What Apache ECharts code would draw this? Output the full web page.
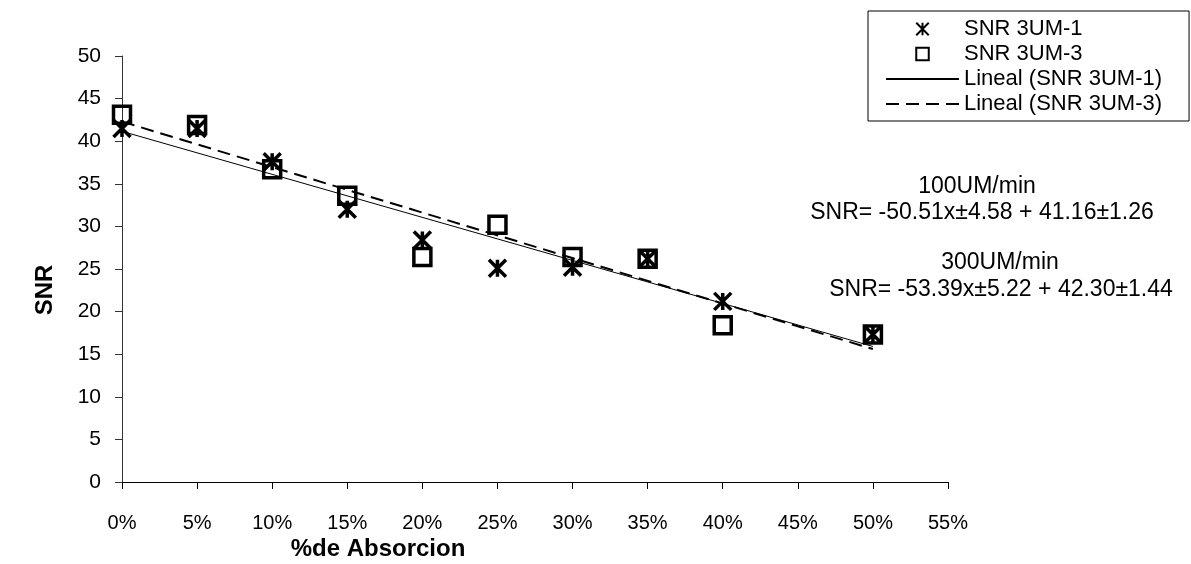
<!DOCTYPE html>
<html>
<head>
<meta charset="utf-8">
<script src="https://cdn.jsdelivr.net/npm/echarts@6/dist/echarts.min.js"></script>
<style>
  html, body { margin: 0; padding: 0; background: #fff; }
  #chart { width: 1191px; height: 564px; }
</style>
</head>
<body>
<div id="chart"></div>
<script>
// ---- data (x in % absorption) ----
const absorcion = [0, 5, 10, 15, 20, 25, 30, 35, 40, 50];
const snr3um1 = [41.5, 41.5, 37.6, 32.0, 28.4, 25.1, 25.2, 26.2, 21.2, 17.3];
const snr3um3 = [43.1, 41.9, 36.7, 33.6, 26.4, 30.2, 26.4, 26.2, 18.4, 17.3];
// fitted lines as given in the annotations (endpoints at 0% and 50%)
const linealX = [0, 50];
const lineal1Y = [41.16, 15.905];
const lineal3Y = [42.30, 15.605];
const yTicks = { min: 0, max: 50, interval: 5 };
const xTicks = { min: 0, max: 55, interval: 5 };
const eq1 = ['100UM/min', 'SNR= -50.51x\u00b14.58 + 41.16\u00b11.26'];
const eq3 = ['300UM/min', 'SNR= -53.39x\u00b15.22 + 42.30\u00b11.44'];
const names = ['SNR 3UM-1', 'SNR 3UM-3', 'Lineal (SNR 3UM-1)', 'Lineal (SNR 3UM-3)'];
const xTitle = '%de Absorcion';
const yTitle = 'SNR';

const FONT = 'Liberation Sans, Arial, sans-serif';
const zip = (xs, ys) => xs.map((x, i) => [x, ys[i]]);
const asterisk = 'path://M0,0L10,10M10,0L0,10M5,0L5,10';
const legendAsterisk = 'path://M-3,-3M13,13M0,0L10,10M10,0L0,10M5,0L5,10';
const legendSquare = 'path://M-3,-3M13,13M0,0L10,0L10,10L0,10Z';
const hidden = { color: 'rgba(0,0,0,0)', borderColor: 'rgba(0,0,0,0)', borderWidth: 0 };

const chart = echarts.init(document.getElementById('chart'), null, { renderer: 'canvas' });
chart.setOption({
  animation: false,
  backgroundColor: '#fff',
  textStyle: { fontFamily: FONT, color: '#000' },
  grid: { left: 122, top: 56, right: 243, bottom: 82, containLabel: false },
  xAxis: {
    type: 'value', min: xTicks.min, max: xTicks.max, interval: xTicks.interval,
    axisLine: { show: true, lineStyle: { color: '#000', width: 1 } },
    axisTick: { show: true, inside: false, length: 7, lineStyle: { color: '#000' } },
    splitLine: { show: false },
    axisLabel: { formatter: v => v + '%', fontSize: 20, fontFamily: FONT, color: '#000', margin: 31 }
  },
  yAxis: {
    type: 'value', min: yTicks.min, max: yTicks.max, interval: yTicks.interval,
    axisLine: { show: true, lineStyle: { color: '#333', width: 1 } },
    axisTick: { show: true, inside: false, length: 7, lineStyle: { color: '#333' } },
    splitLine: { show: false },
    axisLabel: { fontSize: 21, fontFamily: FONT, color: '#000', margin: 21 }
  },
  legend: {
    orient: 'vertical', left: 868, top: 11,
    padding: [7, 27, 6, 17], itemGap: 3, itemWidth: 73, itemHeight: 20,
    symbolKeepAspect: true,
    borderColor: '#000', borderWidth: 1, backgroundColor: '#fff',
    textStyle: { fontSize: 22, fontFamily: FONT, color: '#000' },
    data: [
      { name: names[0], icon: legendAsterisk },
      { name: names[1], icon: legendSquare },
      { name: names[2], itemStyle: hidden },
      { name: names[3], itemStyle: hidden }
    ],
    selectedMode: false
  },
  series: [
    {
      name: names[2], type: 'line', data: zip(linealX, lineal1Y), symbol: 'none', z: 2,
      itemStyle: { color: '#000' },
      lineStyle: { color: '#000', width: 1, type: 'solid' }, silent: true
    },
    {
      name: names[3], type: 'line', data: zip(linealX, lineal3Y), symbol: 'none', z: 2,
      itemStyle: { color: '#000' },
      lineStyle: { color: '#000', width: 2, type: [13, 7] }, silent: true
    },
    {
      name: names[1], type: 'scatter', data: zip(absorcion, snr3um3), symbol: 'rect', symbolSize: 17, z: 3,
      itemStyle: { color: 'rgba(255,255,255,0)', borderColor: '#000', borderWidth: 3.5, opacity: 1 }
    },
    {
      name: names[0], type: 'scatter', data: zip(absorcion, snr3um1), symbol: asterisk, symbolSize: 17, z: 4,
      itemStyle: { color: 'rgba(255,255,255,0)', borderColor: '#000', borderWidth: 3.5, opacity: 1 }
    }
  ],
  graphic: [
    { type: 'text', x: 378, y: 549, style: { text: xTitle, font: 'bold 24px ' + FONT, fill: '#000', align: 'center', verticalAlign: 'middle' } },
    { type: 'text', x: 45, y: 290, rotation: Math.PI / 2, style: { text: yTitle, font: 'bold 24px ' + FONT, fill: '#000', align: 'center', verticalAlign: 'middle' } },
    { type: 'text', x: 977, y: 187, style: { text: eq1[0], font: '23px ' + FONT, fill: '#000', align: 'center', verticalAlign: 'middle' } },
    { type: 'text', x: 982, y: 213, style: { text: eq1[1], font: '23px ' + FONT, fill: '#000', align: 'center', verticalAlign: 'middle' } },
    { type: 'text', x: 1000, y: 263, style: { text: eq3[0], font: '23px ' + FONT, fill: '#000', align: 'center', verticalAlign: 'middle' } },
    { type: 'text', x: 1001, y: 290, style: { text: eq3[1], font: '23px ' + FONT, fill: '#000', align: 'center', verticalAlign: 'middle' } }
  ]
});
</script>
</body>
</html>
